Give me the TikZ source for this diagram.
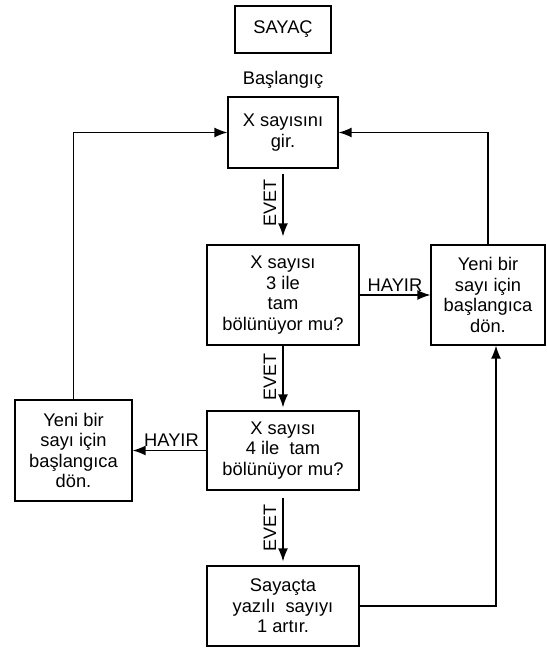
\documentclass[tikz,border=0pt]{standalone}
\usepackage{fontspec}
\setmainfont{Liberation Sans}
\usetikzlibrary{arrows.meta}
\begin{document}
\begin{tikzpicture}[x=1pt,y=-1pt,
  every node/.style={font=\fontsize{18.3}{20.5}\selectfont, inner sep=0pt},
  box/.style={draw, line width=1.2pt, align=center},
  conn/.style={line width=1.4pt},
  arr/.style={conn, -{Latex[length=13pt,width=10pt]}},
  lbl/.style={rotate=90, anchor=south, inner sep=0pt, outer sep=7pt, font=\fontsize{18}{20}\selectfont}]
\useasboundingbox (0,0) rectangle (546,650);
\node[box, minimum width=96pt, minimum height=47pt] (sayac) at (283,29.5) {SAYAÇ};
\node (bas) at (283,80) {Başlangıç};
\node[box, minimum width=110pt, minimum height=71pt] (gir) at (283,132.5) {X sayısını\\gir.};
\node[box, minimum width=152pt, minimum height=100pt] (uc) at (283,295) {X sayısı\\3 ile\\tam\\bölünüyor mu?};
\node[box, minimum width=114pt, minimum height=100pt] (sag) at (488,295) {Yeni bir\\sayı için\\başlangıca\\dön.};
\node[box, minimum width=152pt, minimum height=79pt] (dort) at (283,450.5) {X sayısı\\4 ile\ \ tam\\bölünüyor mu?};
\node[box, minimum width=117pt, minimum height=101pt] (sol) at (73.5,450.5) {Yeni bir\\sayı için\\başlangıca\\dön.};
\node[box, minimum width=152pt, minimum height=80pt] (art) at (283,606) {Sayaçta\\yazılı\ \ sayıyı\\1 artır.};
% EVET arrows
\draw[arr, shorten <=5pt, shorten >=8pt] (gir.south) -- (uc.north)
  node[lbl, pos=0.45] {EVET};
\draw[arr, shorten >=3pt] (uc.south) -- (dort.north)
  node[lbl, pos=0.48] {EVET};
\draw[arr, shorten <=7pt, shorten >=4pt] (dort.south) -- (art.north)
  node[lbl, pos=0.5] {EVET};
% HAYIR arrows
\draw[arr] (uc.east) -- (sag.west) node[midway, above=3pt] {HAYIR};
\draw[arr] (dort.west) -- (sol.east) node[midway, above=3pt, xshift=2pt] {HAYIR};
% return loops
\draw[arr] (sol.north) |- (gir.west);
\draw[arr] (sag.north) |- (gir.east);
\draw[arr] (art.east) -| ([xshift=8pt]sag.south);
\end{tikzpicture}
\end{document}
